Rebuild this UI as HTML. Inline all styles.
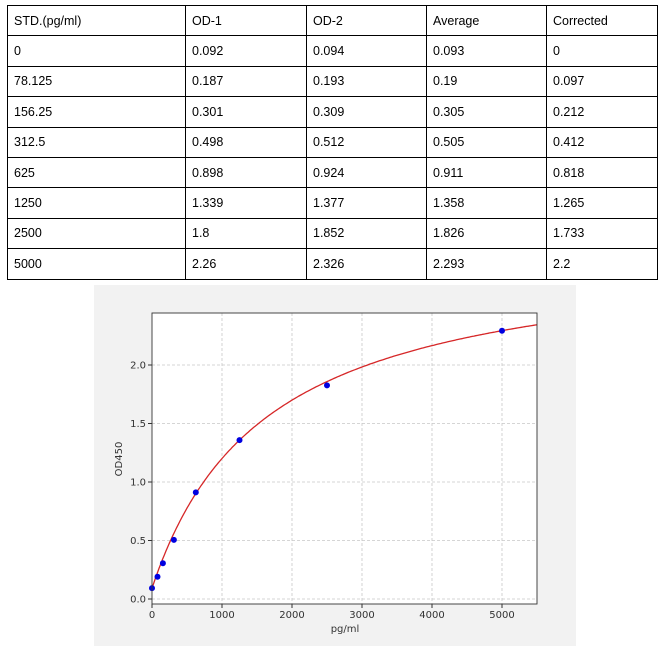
<!DOCTYPE html>
<html><head><meta charset="utf-8"><style>
body{margin:0;background:#fff;width:666px;height:649px;overflow:hidden;font-family:"Liberation Sans","DejaVu Sans",sans-serif}
table{position:absolute;left:7px;top:5px;border-collapse:collapse;font-size:12.5px;color:#000}
td{border:1px solid #000;height:30.4px;padding:0 0 0 6px;box-sizing:border-box}
</style></head><body>
<table>
<colgroup><col style="width:178px"><col style="width:121px"><col style="width:120px"><col style="width:120px"><col style="width:111px"></colgroup>
<tr><td>STD.(pg/ml)</td><td>OD-1</td><td>OD-2</td><td>Average</td><td>Corrected</td></tr>
<tr><td>0</td><td>0.092</td><td>0.094</td><td>0.093</td><td>0</td></tr>
<tr><td>78.125</td><td>0.187</td><td>0.193</td><td>0.19</td><td>0.097</td></tr>
<tr><td>156.25</td><td>0.301</td><td>0.309</td><td>0.305</td><td>0.212</td></tr>
<tr><td>312.5</td><td>0.498</td><td>0.512</td><td>0.505</td><td>0.412</td></tr>
<tr><td>625</td><td>0.898</td><td>0.924</td><td>0.911</td><td>0.818</td></tr>
<tr><td>1250</td><td>1.339</td><td>1.377</td><td>1.358</td><td>1.265</td></tr>
<tr><td>2500</td><td>1.8</td><td>1.852</td><td>1.826</td><td>1.733</td></tr>
<tr><td>5000</td><td>2.26</td><td>2.326</td><td>2.293</td><td>2.2</td></tr>
</table>
<svg width="666" height="649" style="position:absolute;left:0;top:0" font-family="DejaVu Sans, Liberation Sans, sans-serif" font-size="10" fill="#333">
<rect x="94" y="285" width="482" height="361" fill="#f2f2f2"/>
<rect x="152" y="313" width="385" height="291" fill="#fff"/>
<g stroke="#c8c8c8" stroke-dasharray="3,2" stroke-width="0.8">
<line x1="222" y1="313" x2="222" y2="604"/><line x1="292" y1="313" x2="292" y2="604"/><line x1="362" y1="313" x2="362" y2="604"/><line x1="432" y1="313" x2="432" y2="604"/><line x1="502" y1="313" x2="502" y2="604"/>
<line x1="152" y1="599" x2="537" y2="599"/><line x1="152" y1="540.5" x2="537" y2="540.5"/><line x1="152" y1="482" x2="537" y2="482"/><line x1="152" y1="423.5" x2="537" y2="423.5"/><line x1="152" y1="365" x2="537" y2="365"/>
</g>
<polyline id="c" fill="none" stroke="#d62728" stroke-width="1.3"/>
<g fill="#0000e0">
<circle cx="152" cy="588.1" r="3"/><circle cx="157.5" cy="576.8" r="3"/><circle cx="162.9" cy="563.3" r="3"/><circle cx="173.9" cy="539.9" r="3"/><circle cx="195.8" cy="492.4" r="3"/><circle cx="239.5" cy="440.1" r="3"/><circle cx="327" cy="385.4" r="3"/><circle cx="502" cy="330.7" r="3"/>
</g>
<rect x="152" y="313" width="385" height="291" fill="none" stroke="#333" stroke-width="0.9"/>
<g stroke="#333"><line x1="152" y1="604" x2="152" y2="608"/><line x1="222" y1="604" x2="222" y2="608"/><line x1="292" y1="604" x2="292" y2="608"/><line x1="362" y1="604" x2="362" y2="608"/><line x1="432" y1="604" x2="432" y2="608"/><line x1="502" y1="604" x2="502" y2="608"/>
<line x1="148" y1="599" x2="152" y2="599"/><line x1="148" y1="540.5" x2="152" y2="540.5"/><line x1="148" y1="482" x2="152" y2="482"/><line x1="148" y1="423.5" x2="152" y2="423.5"/><line x1="148" y1="365" x2="152" y2="365"/></g>
<g text-anchor="middle"><text x="152" y="618">0</text><text x="222" y="618">1000</text><text x="292" y="618">2000</text><text x="362" y="618">3000</text><text x="432" y="618">4000</text><text x="502" y="618">5000</text><text x="345" y="632">pg/ml</text></g>
<g text-anchor="end"><text x="146" y="602.5">0.0</text><text x="146" y="544">0.5</text><text x="146" y="485.5">1.0</text><text x="146" y="427">1.5</text><text x="146" y="368.5">2.0</text></g>
<text transform="translate(122,459) rotate(-90)" text-anchor="middle">OD450</text>
</svg>
<script>
var p=[];for(var x=0;x<=5500;x+=25){var y=0.093+2.92*x/(1635+x);p.push((152+x*0.07).toFixed(1)+","+(599-y*117).toFixed(1));}
document.getElementById("c").setAttribute("points",p.join(" "));
</script>
</body></html>
